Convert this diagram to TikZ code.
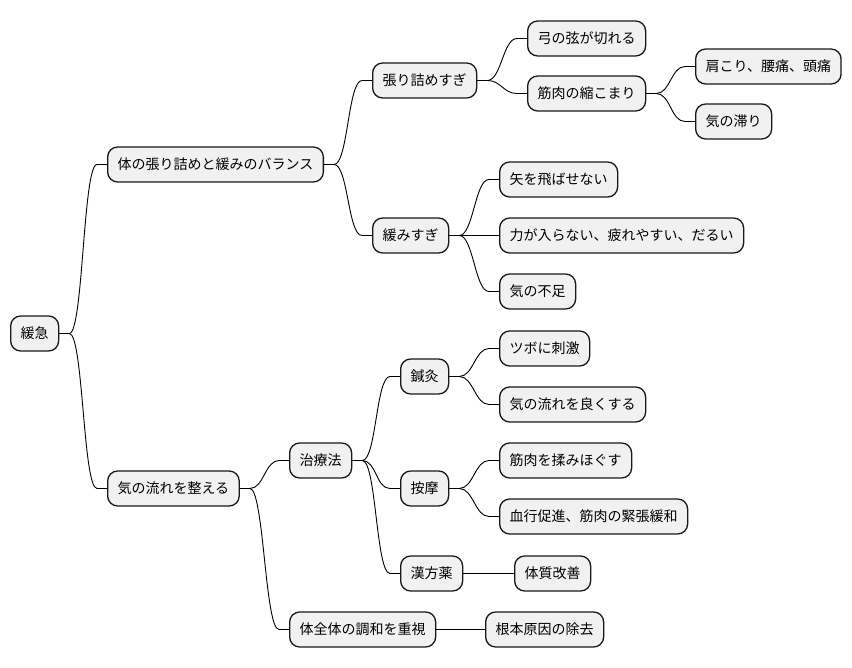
\documentclass[tikz,border=0pt]{standalone}
\usepackage{fontspec}
\setmainfont{Noto Sans CJK JP}
\usepackage{tikz}
\definecolor{boxfill}{HTML}{F1F1F1}
\definecolor{boxline}{HTML}{181818}

\begin{document}
\begin{tikzpicture}[
    x=1pt, y=-1pt,
    topic/.style={draw=boxline, fill=boxfill, line width=1.3pt,
        rounded corners=10pt, minimum height=35pt, inner xsep=10pt,
        inner ysep=0pt, anchor=west, font=\fontsize{14}{16}\selectfont},
    branch line/.style={line width=0.9pt, to path={-- ++(10,0)
        .. controls +(14,0) and +(-14,0) .. ([xshift=-10pt]\tikztotarget)
        -- (\tikztotarget)}}
    ]
    \useasboundingbox (0,0) rectangle (852,668);
    % root
    \node[topic] (root) at (10,333.5) {緩急};
    % first level
    \node[topic] (balance) at (107,164.5) {体の張り詰めと緩みのバランス};
    \node[topic] (flow) at (107,488.5) {気の流れを整える};
    % balance side
    \node[topic] (tense) at (372,80.5) {張り詰めすぎ};
    \node[topic] (loose) at (372,235.5) {緩みすぎ};
    \node[topic] (bow) at (527,38.5) {弓の弦が切れる};
    \node[topic] (muscle) at (527,93.5) {筋肉の縮こまり};
    \node[topic] (stiff) at (695,66.5) {肩こり、腰痛、頭痛};
    \node[topic] (stagnant) at (695,121.5) {気の滞り};
    \node[topic] (arrow) at (499,179.5) {矢を飛ばせない};
    \node[topic] (weak) at (499,235.5) {力が入らない、疲れやすい、だるい};
    \node[topic] (lack) at (499,291.5) {気の不足};
    % flow side
    \node[topic] (cure) at (289,460.5) {治療法};
    \node[topic] (whole) at (289,629.5) {体全体の調和を重視};
    \node[topic] (acu) at (400,376.5) {鍼灸};
    \node[topic] (massage) at (400,488.5) {按摩};
    \node[topic] (kampo) at (400,573.5) {漢方薬};
    \node[topic] (tsubo) at (499,348.5) {ツボに刺激};
    \node[topic] (better) at (499,404.5) {気の流れを良くする};
    \node[topic] (knead) at (499,460.5) {筋肉を揉みほぐす};
    \node[topic] (blood) at (499,516.5) {血行促進、筋肉の緊張緩和};
    \node[topic] (constitution) at (514,573.5) {体質改善};
    \node[topic] (cause) at (485,629.5) {根本原因の除去};
    % Lines
    \draw[branch line] (root.east) to (balance.west);
    \draw[branch line] (root.east) to (flow.west);
    \draw[branch line] (balance.east) to (tense.west);
    \draw[branch line] (balance.east) to (loose.west);
    \draw[branch line] (tense.east) to (bow.west);
    \draw[branch line] (tense.east) to (muscle.west);
    \draw[branch line] (muscle.east) to (stiff.west);
    \draw[branch line] (muscle.east) to (stagnant.west);
    \draw[branch line] (loose.east) to (arrow.west);
    \draw[branch line] (loose.east) to (weak.west);
    \draw[branch line] (loose.east) to (lack.west);
    \draw[branch line] (flow.east) to (cure.west);
    \draw[branch line] (flow.east) to (whole.west);
    \draw[branch line] (cure.east) to (acu.west);
    \draw[branch line] (cure.east) to (massage.west);
    \draw[branch line] (cure.east) to (kampo.west);
    \draw[branch line] (acu.east) to (tsubo.west);
    \draw[branch line] (acu.east) to (better.west);
    \draw[branch line] (massage.east) to (knead.west);
    \draw[branch line] (massage.east) to (blood.west);
    \draw[branch line] (kampo.east) to (constitution.west);
    \draw[branch line] (whole.east) to (cause.west);
\end{tikzpicture}
\end{document}
